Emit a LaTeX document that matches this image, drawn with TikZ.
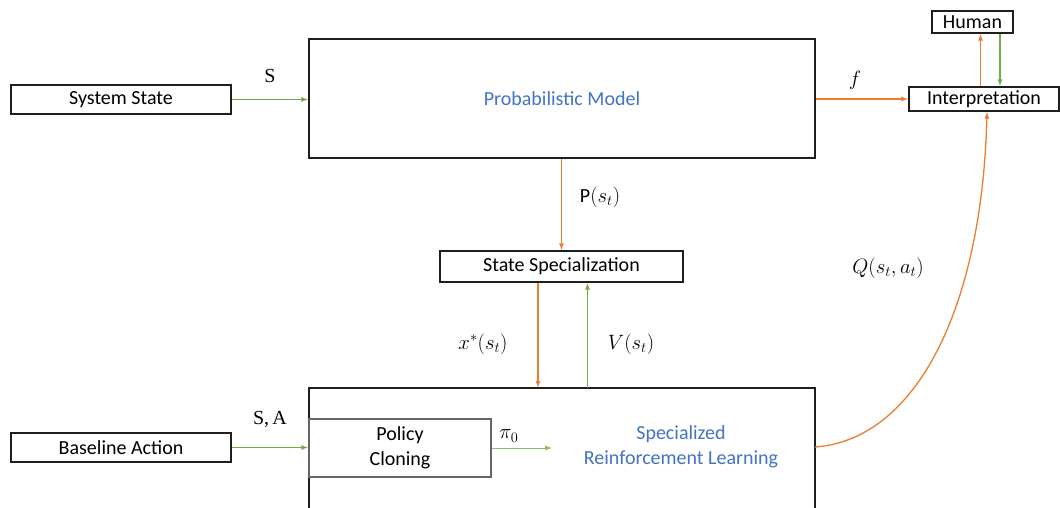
\documentclass[tikz,border=0pt]{standalone}
\usepackage{fontspec}
\setmainfont{Carlito}
\newfontfamily\serifrm{Liberation Serif}
\usetikzlibrary{arrows.meta}
\definecolor{obl}{RGB}{68,114,196}
\definecolor{oor}{RGB}{237,125,49}
\definecolor{ogr}{RGB}{112,173,71}
\definecolor{frame}{RGB}{30,30,30}
\tikzset{
  box/.style={draw=frame, line width=1.1pt, inner sep=0pt, font=\fontsize{20}{24}\selectfont},
  orarr/.style={draw=oor, line width=1.3pt, -{Latex[length=7pt,width=5pt]}},
  grarr/.style={draw=ogr, line width=1.3pt, -{Latex[length=7pt,width=5pt]}},
  lbl/.style={font=\fontsize{20}{23}\selectfont, inner sep=0pt},
}
\begin{document}
\begin{tikzpicture}[x=1pt,y=-1pt]
\useasboundingbox (0,0) rectangle (1060,507);

% input boxes
\node[box, minimum width=220pt, minimum height=29pt] (sys) at (121,99.5) {System State};
\node[box, minimum width=220pt, minimum height=29pt] (base) at (121,447.5) {Baseline Action};

% probabilistic model
\node[box, minimum width=506pt, minimum height=119pt, text=obl] (pm) at (562,98.5) {Probabilistic Model};

% interpretation and human
\node[box, minimum width=150pt, minimum height=24pt] (interp) at (984,99) {Interpretation};
\node[box, minimum width=81pt, minimum height=22pt] (human) at (972.5,22) {Human};

% state specialization
\node[box, minimum width=243pt, minimum height=31pt] (spec) at (561.5,266.5) {State Specialization};

% specialized reinforcement learning (runs off the lower edge)
\draw[draw=frame, line width=1.1pt] (309,520) -- (309,388) -- (815,388) -- (815,520);
\coordinate (srlN) at (562,388);
\coordinate (srlE) at (815,447);
\node[text=obl, align=center, inner sep=0pt, font=\fontsize{20}{25}\selectfont] (srl) at (681,447) {Specialized\\Reinforcement Learning};

% policy cloning
\node[draw=black!60, line width=1.1pt, minimum width=182pt, minimum height=58pt, inner sep=0pt,
      align=center, font=\fontsize{20}{25}\selectfont] (pc) at (400,448) {Policy\\Cloning};
\coordinate (pcout) at (552,448);

% connectors
\draw[grarr] (sys.east) -- (sys.east -| pm.west);
\node[lbl] (lS) at (270,76) {\serifrm S};

\draw[orarr] (pm.east |- interp.west) -- (interp.west);
\node[lbl] (lf) at (855,80) {$f$};

\draw[orarr] ([xshift=-3.5pt]interp.north) coordinate (iu) -- (iu |- human.south);
\draw[grarr] ([xshift=27.5pt]human.south) coordinate (hd) -- (hd |- interp.north);

\draw[orarr] (pm.south -| spec.north) -- (spec.north);
\node[lbl] (lP) at (600,197) {P$(s_t)$};

\draw[orarr] ([xshift=-23.5pt]spec.south) coordinate (sx) -- (sx |- srlN);
\node[lbl] (lx) at (483,344) {$x^*(s_t)$};

\draw[grarr] ([xshift=25.5pt]srlN) coordinate (vy) -- (vy |- spec.south);
\node[lbl] (lV) at (631,344) {$V(s_t)$};

\draw[grarr] (base.east) -- (base.east -| pc.west);
\node[lbl] (lSA) at (270,419) {\serifrm S,\,A};

\draw[draw=ogr!80, line width=0.8pt, -{Latex[length=7pt,width=5pt]}] (pc.east) -- (pcout);
\node[lbl] (lpi) at (509,436) {$\pi_0$};

\draw[orarr] (srlE) .. controls (915,440) and (982,310) .. ([xshift=3pt]interp.south);
\node[lbl] (lQ) at (888,268) {$Q(s_t,a_t)$};
\end{tikzpicture}
\end{document}
